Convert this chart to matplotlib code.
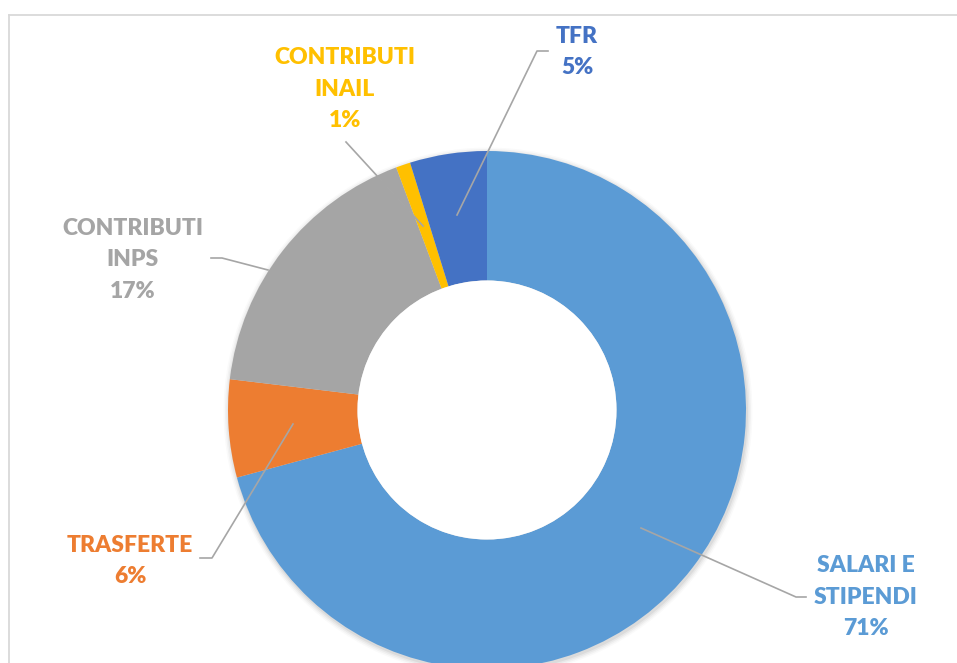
import matplotlib
matplotlib.use('Agg')
import matplotlib.pyplot as plt

# slices clockwise from the top
categories = ['SALARI E\nSTIPENDI', 'TRASFERTE', 'CONTRIBUTI\nINPS', 'CONTRIBUTI\nINAIL', 'TFR']
values = [70.8, 6.1, 17.4, 0.9, 4.8]
pct_labels = ['71%', '6%', '17%', '1%', '5%']
colors = ['#5B9BD5', '#ED7D31', '#A5A5A5', '#FFC000', '#4472C4']

W, H = 957, 663


def Y(y):
    return H - y


fig = plt.figure(figsize=(W / 100, H / 100), dpi=100)
ax = fig.add_axes([0, 0, 1, 1])
ax.set_xlim(0, W)
ax.set_ylim(0, H)
ax.set_aspect('equal')
ax.axis('off')

cx, cy, R = 487, 410, 259

# soft shadow
for i, a in enumerate([0.05, 0.04, 0.03, 0.02]):
    ax.add_patch(plt.Circle((cx + 1, Y(cy) - 2), R + 1 + i * 1.5, color='black',
                            alpha=a, lw=0, zorder=0))

ax.pie(values, colors=colors, startangle=90, counterclock=False,
       center=(cx, Y(cy)), radius=R, frame=True,
       wedgeprops=dict(width=R * 0.5, linewidth=0))
ax.add_patch(plt.Circle((cx, Y(cy)), R * 0.5, color='white', lw=0, zorder=3))
ax.set_xlim(0, W)
ax.set_ylim(0, H)
ax.axis('off')

# frame
ax.plot([9, W], [Y(15), Y(15)], color='#D9D9D9', lw=1.3, zorder=5)
ax.plot([9, 9], [Y(15), 0], color='#D9D9D9', lw=1.3, zorder=5)

# label positions (center x, middle y) and leader lines
label_pos = [(866, 597), (130, 561), (133, 260), (345, 89), (577, 52)]
leaders = [
    [(641, 528), (796, 597), (806, 597)],
    [(293, 424), (212, 558), (200, 558)],
    [(268, 270), (222, 258), (211, 258)],
    [(423, 226), (346, 142)],
    [(457, 215), (537, 51), (548, 51)],
]

for cat, pct, col, (lx, ly), pts in zip(categories, pct_labels, colors, label_pos, leaders):
    ax.text(lx, Y(ly), cat + '\n' + pct, color=col, ha='center', va='center',
            fontsize=16.5, fontweight='heavy', family=['Lato', 'DejaVu Sans'],
            linespacing=1.62, zorder=6)
    ax.plot([p[0] for p in pts], [Y(p[1]) for p in pts], color='#A6A6A6',
            lw=1.2, zorder=4)

fig.savefig('out.png', dpi=100, facecolor='white')
